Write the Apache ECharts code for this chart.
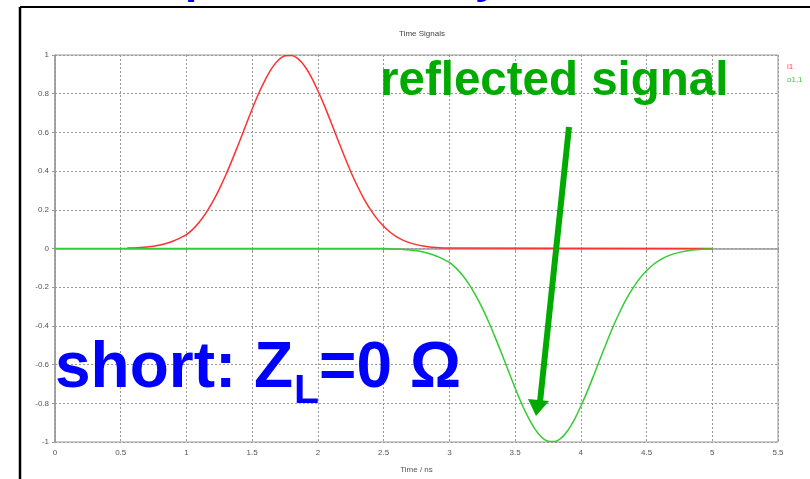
<!DOCTYPE html>
<html>
<head>
<meta charset="utf-8">
<script src="https://cdn.jsdelivr.net/npm/echarts@6/dist/echarts.min.js"></script>
<style>
html,body{margin:0;padding:0;background:#fff;}
#chart{width:810px;height:479px;}
</style>
</head>
<body>
<div id="chart"></div>
<script>
// ---- data ----
var xTicks = [0, 0.5, 1, 1.5, 2, 2.5, 3, 3.5, 4, 4.5, 5, 5.5];
var yTicks = [-1, -0.8, -0.6, -0.4, -0.2, 0, 0.2, 0.4, 0.6, 0.8, 1];
var seriesNames = ['i1', 'o1,1'];

var i1Time = [0.55,0.6,0.65,0.7,0.75,0.8,0.85,0.9,0.95,1.0,1.05,1.1,1.15,1.2,1.25,1.3,1.35,1.4,1.45,1.5,
  1.55,1.6,1.65,1.7,1.75,1.8,1.85,1.9,1.95,2.0,2.05,2.1,2.15,2.2,2.25,2.3,2.35,2.4,2.45,2.5,
  2.55,2.6,2.65,2.7,2.75,2.8,2.85,2.9,2.95,3.0,5.0];
var i1Values = [0.002,0.003,0.005,0.008,0.012,0.018,0.027,0.039,0.054,0.072,0.1,0.138,0.185,0.242,0.307,0.381,0.462,0.547,0.634,0.721,
  0.802,0.873,0.932,0.974,0.996,0.998,0.98,0.942,0.886,0.815,0.737,0.652,0.565,0.479,0.397,0.323,0.257,0.201,0.153,0.115,
  0.084,0.06,0.042,0.029,0.02,0.013,0.008,0.005,0.003,0.002,0];

var o11Time = [0,2.5,2.55,2.6,2.65,2.7,2.75,2.8,2.85,2.9,2.95,3.0,3.05,3.1,3.15,3.2,3.25,3.3,3.35,3.4,3.45,3.5,
  3.55,3.6,3.65,3.7,3.75,3.8,3.85,3.9,3.95,4.0,4.05,4.1,4.15,4.2,4.25,4.3,4.35,4.4,4.45,4.5,
  4.55,4.6,4.65,4.7,4.75,4.8,4.85,4.9,4.95,5.0];
var o11Values = [0,0,-0.002,-0.003,-0.005,-0.008,-0.012,-0.018,-0.027,-0.039,-0.054,-0.072,-0.1,-0.138,-0.185,-0.242,-0.307,-0.381,-0.462,-0.547,-0.634,-0.721,
  -0.802,-0.873,-0.932,-0.974,-0.996,-0.998,-0.98,-0.942,-0.886,-0.815,-0.737,-0.652,-0.565,-0.479,-0.397,-0.323,-0.257,-0.201,-0.153,-0.115,
  -0.084,-0.06,-0.042,-0.029,-0.02,-0.013,-0.008,-0.005,-0.003,-0.002];

function zip(a, b) { return a.map(function (v, i) { return [v, b[i]]; }); }

var chart = echarts.init(document.getElementById('chart'), null, {renderer: 'canvas'});
var axisFont = {fontFamily: 'Liberation Sans', fontSize: 8, color: '#555'};
var option = {
  backgroundColor: '#fff',
  animation: false,
  title: {
    text: 'Time Signals', left: 417, top: 25, textAlign: 'center',
    textStyle: {fontFamily: 'Liberation Sans', fontSize: 8, fontWeight: 'normal', color: '#444'}
  },
  legend: {
    orient: 'vertical', left: 777, top: 58, itemGap: 5,
    itemWidth: 0, itemHeight: 0, icon: 'rect',
    data: [
      {name: seriesNames[0], textStyle: {color: '#ff4040'}},
      {name: seriesNames[1], textStyle: {color: '#40c840'}}
    ],
    textStyle: {fontFamily: 'Liberation Sans', fontSize: 8}
  },
  grid: {left: 55, right: 32, top: 55, bottom: 30, show: true, borderColor: '#999', borderWidth: 1},
  xAxis: {
    type: 'value', min: xTicks[0], max: xTicks[xTicks.length - 1], interval: 0.5,
    name: 'Time / ns', nameLocation: 'middle', nameGap: 24,
    nameTextStyle: {fontFamily: 'Liberation Sans', fontSize: 8, color: '#555'},
    axisLine: {show: true, lineStyle: {color: '#999', width: 1.5}},
    axisTick: {show: true, length: 3, lineStyle: {color: '#999'}},
    axisLabel: Object.assign({margin: 7}, axisFont),
    splitLine: {show: true, lineStyle: {color: '#999', type: [2, 2], width: 1}}
  },
  yAxis: {
    type: 'value', min: yTicks[0], max: yTicks[yTicks.length - 1], interval: 0.2,
    axisLine: {show: true, lineStyle: {color: '#999', width: 1.5}},
    axisTick: {show: true, length: 3, lineStyle: {color: '#999'}},
    axisLabel: Object.assign({margin: 6}, axisFont),
    splitLine: {show: true, lineStyle: {color: '#999', type: [2, 2], width: 1}}
  },
  series: [
    {name: seriesNames[0], type: 'line', data: zip(i1Time, i1Values), showSymbol: false, smooth: 0.3,
     lineStyle: {color: '#ff3030', width: 1.5}, itemStyle: {color: '#ff3030'}},
    {name: seriesNames[1], type: 'line', data: zip(o11Time, o11Values), showSymbol: false, smooth: 0.3,
     lineStyle: {color: '#33cc33', width: 1.5}, itemStyle: {color: '#33cc33'}}
  ],
  graphic: [
    // slide frame
    {type: 'line', shape: {x1: 20, y1: 7, x2: 810, y2: 7}, style: {stroke: '#000', lineWidth: 2}, z: 100},
    {type: 'line', shape: {x1: 20, y1: 7, x2: 20, y2: 479}, style: {stroke: '#000', lineWidth: 2.5}, z: 100},
    // clipped slide title fragments
    {type: 'text', left: 185, top: -41.5, z: 90, style: {text: 'p', font: 'bold 44px "Liberation Sans"', fill: '#0000ff'}},
    {type: 'text', left: 340, top: -41.5, z: 90, style: {text: ',', font: 'bold 44px "Liberation Sans"', fill: '#0000ff'}},
    {type: 'text', left: 475, top: -41.5, z: 90, style: {text: 'y', font: 'bold 44px "Liberation Sans"', fill: '#0000ff'}},
    // annotations
    {type: 'text', x: 380, y: 82, z: 110, style: {text: 'reflected signal', font: 'bold 47.5px "Liberation Sans"', fill: '#00aa00', verticalAlign: 'middle'}},
    {type: 'text', x: 55, y: 369, z: 110, style: {text: 'short: Z', font: 'bold 64px "Liberation Sans"', fill: '#0000ff', verticalAlign: 'middle'}},
    {type: 'text', x: 294, y: 392, z: 110, style: {text: 'L', font: 'bold 41px "Liberation Sans"', fill: '#0000ff', verticalAlign: 'middle'}},
    {type: 'text', x: 319, y: 369, z: 110, style: {text: '=0 Ω', font: 'bold 64px "Liberation Sans"', fill: '#0000ff', verticalAlign: 'middle'}},
    {type: 'line', shape: {x1: 569, y1: 127, x2: 540, y2: 402}, style: {stroke: '#00aa00', lineWidth: 6}, z: 110},
    {type: 'polygon', shape: {points: [[536, 416], [528, 399], [549, 401]]}, style: {fill: '#00aa00'}, z: 110}
  ]
};
chart.setOption(option);
</script>
</body>
</html>
